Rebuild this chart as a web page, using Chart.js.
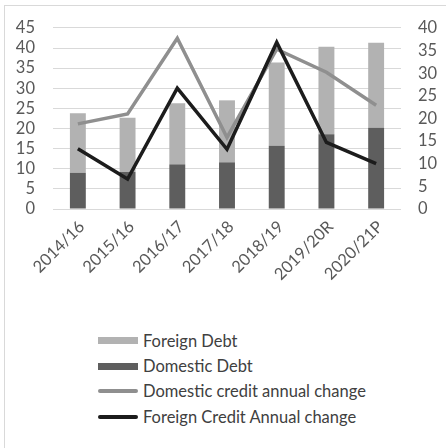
<!DOCTYPE html>
<html>
<head>
<meta charset="utf-8">
<script src="https://cdn.jsdelivr.net/npm/chart.js@4/dist/chart.umd.min.js"></script>
<style>
  html,body{margin:0;padding:0;background:#fff;overflow:hidden;}
  #wrap{position:relative;width:446px;height:448px;overflow:hidden;}
  #frame{position:absolute;left:4px;top:5px;width:460px;height:460px;border-left:1px solid #d9d9d9;border-top:1px solid #d9d9d9;box-sizing:border-box;}
  #cv{position:absolute;left:0;top:0;}
  #legend{position:absolute;left:98px;top:328px;font-family:Lato,sans-serif;font-size:16.5px;line-height:20px;color:#404040;white-space:nowrap;}
  .row{display:flex;align-items:center;height:25.4px;overflow:visible;}
  .sym{width:40px;margin-right:5px;flex:none;}
</style>
</head>
<body>
<div id="wrap">
  <div id="frame"></div>
  <canvas id="cv" width="446" height="300"></canvas>
  <div id="legend"></div>
</div>
<script>
const categories = ["2014/16","2015/16","2016/17","2017/18","2018/19","2019/20R","2020/21P"];
const domesticDebt = [9.0, 9.2, 11.1, 11.6, 15.7, 18.6, 20.2];
const foreignDebt = [14.8, 13.5, 15.2, 15.4, 20.7, 21.7, 21.1];
const domesticCreditChange = [18.8, 21.0, 37.7, 15.8, 35.3, 30.2, 22.9];
const foreignCreditChange = [13.3, 6.6, 26.7, 13.2, 36.8, 14.7, 10.0];
const leftTicks = {min:0, max:45, step:5};
const rightTicks = {min:0, max:40, step:5};

const C = {foreign:'#b2b2b2', domestic:'#5e5e5e', grayLine:'#8f8f8f', blackLine:'#1c1c1c'};
const tickFont = {family:'Lato', size:16.5};

const chart = new Chart(document.getElementById('cv'), {
  type:'bar',
  data:{
    labels:categories,
    datasets:[
      {type:'line', label:'Foreign Credit Annual change', data:foreignCreditChange, yAxisID:'y1',
       borderColor:C.blackLine, backgroundColor:C.blackLine, borderWidth:3.5, pointRadius:0, tension:0},
      {type:'line', label:'Domestic credit annual change', data:domesticCreditChange, yAxisID:'y1',
       borderColor:C.grayLine, backgroundColor:C.grayLine, borderWidth:3.5, pointRadius:0, tension:0},
      {label:'Domestic Debt', data:domesticDebt, yAxisID:'y', backgroundColor:C.domestic,
       barPercentage:0.32, categoryPercentage:1},
      {label:'Foreign Debt', data:foreignDebt, yAxisID:'y', backgroundColor:C.foreign,
       barPercentage:0.32, categoryPercentage:1}
    ]
  },
  options:{
    responsive:false, animation:false,
    layout:{padding:{top:27, left:0, right:0, bottom:0}},
    plugins:{legend:{display:false}, tooltip:{enabled:false}},
    scales:{
      x:{stacked:true, grid:{display:false}, border:{display:false},
         ticks:{font:tickFont, color:'#595959', maxRotation:45, minRotation:45, padding:0, labelOffset:4, autoSkip:false},
         afterFit(s){ s.height = 91; }},
      y:{stacked:true, position:'left', min:leftTicks.min, max:leftTicks.max,
         grid:{color:'#d9d9d9', drawTicks:false}, border:{display:false},
         ticks:{stepSize:leftTicks.step, font:tickFont, color:'#595959', padding:18, autoSkip:false},
         afterFit(s){ s.width = 53; }},
      y1:{position:'right', min:rightTicks.min, max:rightTicks.max,
         grid:{display:false, drawTicks:false}, border:{display:false},
         ticks:{stepSize:rightTicks.step, font:tickFont, color:'#595959', padding:17, autoSkip:false},
         afterFit(s){ s.width = 45; }}
    }
  }
});

// HTML legend built from the chart's datasets
const legendOrder = ['Foreign Debt','Domestic Debt','Domestic credit annual change','Foreign Credit Annual change'];
const lg = document.getElementById('legend');
legendOrder.forEach(name=>{
  const ds = chart.data.datasets.find(d=>d.label===name);
  const row = document.createElement('div'); row.className='row';
  const sym = document.createElement('div'); sym.className='sym';
  if(ds.type==='line'){
    sym.style.height='4px'; sym.style.borderRadius='2px'; sym.style.background=ds.borderColor;
  } else {
    sym.style.height='7px'; sym.style.background=ds.backgroundColor;
  }
  const t = document.createElement('span'); t.textContent=name;
  row.appendChild(sym); row.appendChild(t); lg.appendChild(row);
});
</script>
</body>
</html>
